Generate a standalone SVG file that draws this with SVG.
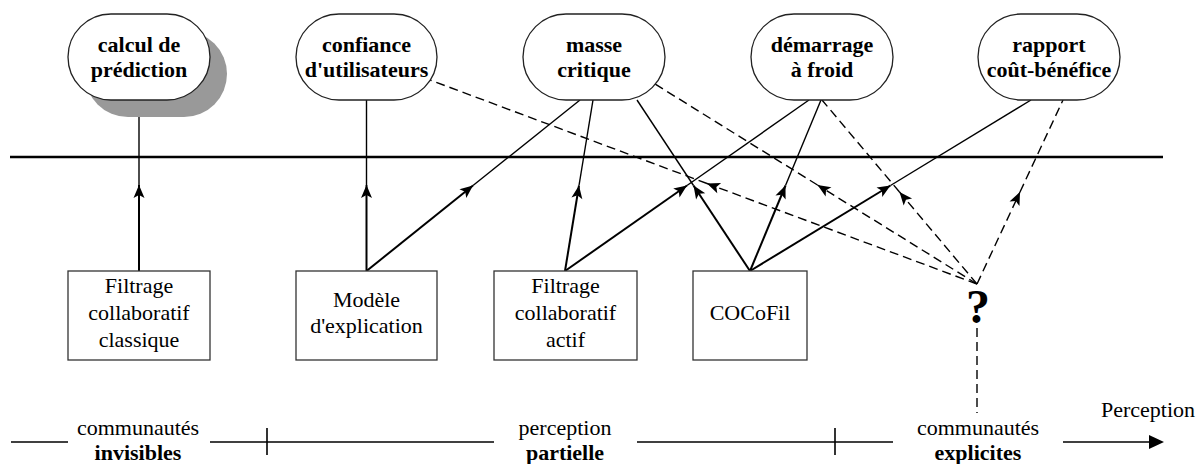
<svg xmlns="http://www.w3.org/2000/svg" width="1204" height="464" viewBox="0 0 1204 464">
<style>
  .node { fill: #fff; stroke: #222; stroke-width: 1.3; }
  .shadow { fill: #999; stroke: none; }
  .box { fill: #fff; stroke: #333; stroke-width: 1.3; }
  .t { font-family: "Liberation Serif", "Times New Roman", serif; font-size: 22px; fill: #000; text-anchor: middle; }
  .b { font-weight: bold; }
  .up { stroke: #000; stroke-width: 1.4; fill: none; }
  .low { stroke: #000; stroke-width: 2; fill: none; marker-end: url(#ah); }
  .dash { stroke: #000; stroke-width: 1.4; fill: none; stroke-dasharray: 9 5; }
  .dashlow { stroke: #000; stroke-width: 1.4; fill: none; stroke-dasharray: 9 5; marker-end: url(#ah); }
  .axis { stroke: #000; stroke-width: 1.6; fill: none; }
</style>
<defs>
  <marker id="ah" markerUnits="userSpaceOnUse" markerWidth="30" markerHeight="30" viewBox="-15 -15 30 30" refX="0" refY="0" orient="auto" overflow="visible">
    <path d="M0,0 L-13,-5.5 L-10,0 L-13,5.5 Z" fill="#000" stroke="none"/>
  </marker>
</defs>
<rect width="1204" height="464" fill="#fff"/>

<!-- horizontal separator -->
<line x1="10" y1="157" x2="1163" y2="157" stroke="#000" stroke-width="2.6"/>

<g id="connectors">
  <!-- solid arrows: lower part with arrowhead, upper part thin -->
  <line class="low" x1="139" y1="271" x2="139" y2="185"/>
  <line class="up" x1="139" y1="185" x2="139" y2="100"/>

  <line class="low" x1="366.5" y1="271" x2="366.5" y2="185"/>
  <line class="up" x1="366.5" y1="185" x2="366.5" y2="100"/>

  <line class="low" x1="366.5" y1="271" x2="473" y2="185.5"/>
  <line class="up" x1="473" y1="185.5" x2="580" y2="100"/>

  <line class="low" x1="565" y1="271" x2="579" y2="185.5"/>
  <line class="up" x1="579" y1="185.5" x2="593" y2="100"/>

  <line class="low" x1="565" y1="271" x2="687" y2="185.5"/>
  <line class="up" x1="687" y1="185.5" x2="809" y2="100"/>

  <line class="low" x1="750" y1="271" x2="693.5" y2="185.5"/>
  <line class="up" x1="693.5" y1="185.5" x2="637" y2="100"/>

  <line class="low" x1="750" y1="271" x2="785.5" y2="185.5"/>
  <line class="up" x1="785.5" y1="185.5" x2="821" y2="100"/>

  <line class="low" x1="750" y1="271" x2="890.5" y2="185.5"/>
  <line class="up" x1="890.5" y1="185.5" x2="1031" y2="100"/>

  <!-- dashed arrows from ? -->
  <line class="dashlow" x1="977" y1="284" x2="707" y2="183.5"/>
  <line class="dash" x1="707" y1="183.5" x2="430" y2="80"/>

  <line class="dashlow" x1="977" y1="284" x2="817.5" y2="185"/>
  <line class="dash" x1="817.5" y1="185" x2="655" y2="84"/>

  <line class="dashlow" x1="977" y1="284" x2="899.5" y2="192"/>
  <line class="dash" x1="899.5" y1="192" x2="822" y2="100"/>

  <line class="dashlow" x1="977" y1="284" x2="1020" y2="192"/>
  <line class="dash" x1="1020" y1="192" x2="1063" y2="100"/>

  <line class="dash" x1="977" y1="328" x2="977" y2="413"/>
</g>

<!-- top nodes -->
<g id="n-calcul">
  <rect class="shadow" x="85" y="31" width="142" height="86" rx="43" ry="43"/>
  <rect class="node" x="68" y="14" width="142" height="86" rx="43" ry="43"/>
  <text class="t b" x="139" y="52">calcul de</text>
  <text class="t b" x="139" y="77">prédiction</text>
</g>
<g id="n-confiance">
  <rect class="node" x="296" y="14" width="141" height="86" rx="43" ry="43"/>
  <text class="t b" x="366.5" y="52">confiance</text>
  <text class="t b" x="366.5" y="77">d'utilisateurs</text>
</g>
<g id="n-masse">
  <rect class="node" x="523" y="14" width="142" height="86" rx="43" ry="43"/>
  <text class="t b" x="594" y="52">masse</text>
  <text class="t b" x="594" y="77">critique</text>
</g>
<g id="n-demarrage">
  <rect class="node" x="751" y="14" width="142" height="86" rx="43" ry="43"/>
  <text class="t b" x="822" y="52">démarrage</text>
  <text class="t b" x="822" y="77">à froid</text>
</g>
<g id="n-rapport">
  <rect class="node" x="978" y="14" width="142" height="86" rx="43" ry="43"/>
  <text class="t b" x="1049" y="52">rapport</text>
  <text class="t b" x="1049" y="77">coût-bénéfice</text>
</g>

<!-- bottom boxes -->
<g id="b-classique">
  <rect class="box" x="68" y="271" width="142" height="89"/>
  <text class="t" x="139" y="293">Filtrage</text>
  <text class="t" x="139" y="320">collaboratif</text>
  <text class="t" x="139" y="347">classique</text>
</g>
<g id="b-modele">
  <rect class="box" x="296" y="271" width="141" height="89"/>
  <text class="t" x="366.5" y="307">Modèle</text>
  <text class="t" x="366.5" y="333">d'explication</text>
</g>
<g id="b-actif">
  <rect class="box" x="494" y="271" width="143" height="89"/>
  <text class="t" x="565.5" y="293">Filtrage</text>
  <text class="t" x="565.5" y="320">collaboratif</text>
  <text class="t" x="565.5" y="347">actif</text>
</g>
<g id="b-cocofil">
  <rect class="box" x="693" y="271" width="114" height="89"/>
  <text class="t" x="750" y="320">COCoFil</text>
</g>
<g id="q">
  <text class="t b" x="978" y="323" style="font-size:48px">?</text>
</g>

<!-- perception axis -->
<g id="axis">
  <line class="axis" x1="11" y1="442" x2="68" y2="442"/>
  <line class="axis" x1="210" y1="442" x2="494" y2="442"/>
  <line class="axis" x1="637" y1="442" x2="893" y2="442"/>
  <line class="axis" x1="1063" y1="442" x2="1152" y2="442"/>
  <polygon points="1164,442 1149,435 1149,449" fill="#000"/>
  <line class="axis" x1="267" y1="428" x2="267" y2="455" stroke-width="1.2"/>
  <line class="axis" x1="835" y1="428" x2="835" y2="455" stroke-width="1.2"/>
  <text class="t" x="138" y="435">communautés</text>
  <text class="t b" x="138" y="460">invisibles</text>
  <text class="t" x="565" y="435">perception</text>
  <text class="t b" x="565" y="460">partielle</text>
  <text class="t" x="978" y="435">communautés</text>
  <text class="t b" x="978" y="460">explicites</text>
  <text class="t" x="1148" y="417">Perception</text>
</g>
</svg>
